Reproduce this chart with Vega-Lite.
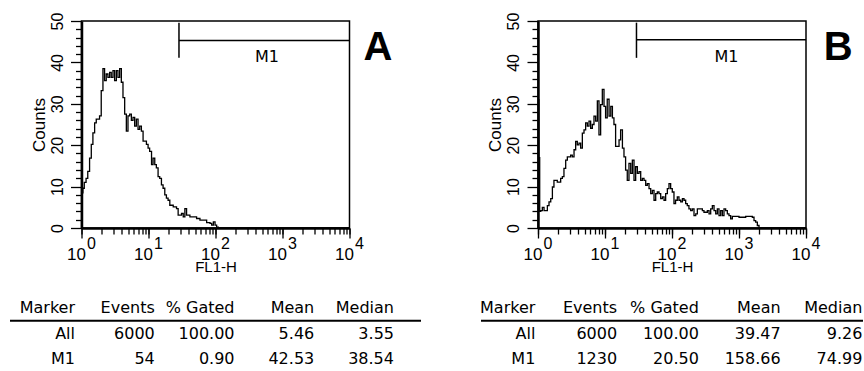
{
  "$schema": "https://vega.github.io/schema/vega-lite/v6.json",
  "padding": {"left": 9, "top": 11, "right": 0, "bottom": 0},
  "background": "white",
  "datasets": {
    "histA": [
      {"x": 1, "c": 29}, {"x": 1.03, "c": 8.5}, {"x": 1.05, "c": 9.6}, {"x": 1.1, "c": 11}, {"x": 1.17, "c": 12.0},
      {"x": 1.24, "c": 13.7}, {"x": 1.32, "c": 16.9}, {"x": 1.40, "c": 20.2}, {"x": 1.48, "c": 23.0}, {"x": 1.57, "c": 25.4},
      {"x": 1.66, "c": 26.3}, {"x": 1.86, "c": 27.1}, {"x": 1.97, "c": 33.2}, {"x": 2.09, "c": 38.5}, {"x": 2.21, "c": 35.6},
      {"x": 2.34, "c": 37.2}, {"x": 2.48, "c": 36.4}, {"x": 2.63, "c": 37.6}, {"x": 2.78, "c": 36.4}, {"x": 2.95, "c": 38.0},
      {"x": 3.12, "c": 35.6}, {"x": 3.31, "c": 38.0}, {"x": 3.50, "c": 36.4}, {"x": 3.71, "c": 38.5}, {"x": 3.93, "c": 35.2},
      {"x": 4.16, "c": 31.5}, {"x": 4.41, "c": 27.5}, {"x": 4.67, "c": 23.4}, {"x": 4.94, "c": 27.1}, {"x": 5.24, "c": 27.5},
      {"x": 5.55, "c": 26}, {"x": 5.87, "c": 26.7}, {"x": 6.22, "c": 24.6}, {"x": 6.59, "c": 26.3}, {"x": 6.98, "c": 23.8},
      {"x": 7.39, "c": 24.6}, {"x": 7.83, "c": 23.4}, {"x": 8.30, "c": 21.0}, {"x": 9.31, "c": 20.2}, {"x": 9.86, "c": 19.3},
      {"x": 10.4, "c": 18.5}, {"x": 11.1, "c": 15.3}, {"x": 11.7, "c": 16.9}, {"x": 12.4, "c": 15.3}, {"x": 13.1, "c": 14.5},
      {"x": 13.9, "c": 12.4}, {"x": 14.7, "c": 12.0}, {"x": 15.6, "c": 10.4}, {"x": 16.5, "c": 9.6}, {"x": 17.5, "c": 8.0},
      {"x": 18.5, "c": 7.2}, {"x": 19.6, "c": 6.7}, {"x": 20.8, "c": 5.5}, {"x": 23.4, "c": 5.1}, {"x": 26.2, "c": 4.7},
      {"x": 27.7, "c": 3.1}, {"x": 31.1, "c": 3.5}, {"x": 33.0, "c": 2.7}, {"x": 34.9, "c": 4.7}, {"x": 37.0, "c": 3.1},
      {"x": 41.5, "c": 2.7}, {"x": 52.2, "c": 2.3}, {"x": 58.6, "c": 1.9}, {"x": 65.8, "c": 1.9}, {"x": 73.8, "c": 1.3},
      {"x": 82.8, "c": 1.1}, {"x": 87.7, "c": 0.7}, {"x": 92.9, "c": 1.5}, {"x": 98.4, "c": 0.7}, {"x": 104, "c": 0.2},
      {"x": 110, "c": 0}, {"x": 10000, "c": 0}
    ],
    "histB": [
      {"x": 1, "c": 31}, {"x": 1.03, "c": 17}, {"x": 1.06, "c": 4}, {"x": 1.10, "c": 4.2}, {"x": 1.16, "c": 5.0},
      {"x": 1.23, "c": 4.2}, {"x": 1.38, "c": 5.4}, {"x": 1.46, "c": 6.3}, {"x": 1.55, "c": 7.1}, {"x": 1.64, "c": 9.9},
      {"x": 1.73, "c": 11.5}, {"x": 1.94, "c": 11.1}, {"x": 2.18, "c": 12.0}, {"x": 2.31, "c": 12.4}, {"x": 2.44, "c": 14.4},
      {"x": 2.59, "c": 16.4}, {"x": 2.74, "c": 17.2}, {"x": 3.07, "c": 17.6}, {"x": 3.25, "c": 17.2}, {"x": 3.45, "c": 18.9},
      {"x": 3.65, "c": 20.9}, {"x": 3.86, "c": 20.1}, {"x": 4.09, "c": 20.5}, {"x": 4.33, "c": 19.3}, {"x": 4.59, "c": 22.9},
      {"x": 4.86, "c": 23.7}, {"x": 5.14, "c": 25.4}, {"x": 5.45, "c": 24.6}, {"x": 5.77, "c": 25.8}, {"x": 6.11, "c": 24.1},
      {"x": 6.47, "c": 25.0}, {"x": 6.85, "c": 27.0}, {"x": 7.26, "c": 25.8}, {"x": 7.69, "c": 30.7}, {"x": 8.13, "c": 22.5},
      {"x": 8.61, "c": 29.8}, {"x": 9.12, "c": 33.5}, {"x": 9.66, "c": 29.4}, {"x": 10.2, "c": 26.6}, {"x": 10.8, "c": 31.1},
      {"x": 11.5, "c": 27.0}, {"x": 12.2, "c": 29.4}, {"x": 12.9, "c": 26.6}, {"x": 13.6, "c": 25.0}, {"x": 14.4, "c": 19.7},
      {"x": 15.3, "c": 19.7}, {"x": 16.2, "c": 21.3}, {"x": 17.1, "c": 23.7}, {"x": 18.2, "c": 19.3}, {"x": 19.2, "c": 17.2},
      {"x": 20.3, "c": 14.0}, {"x": 21.5, "c": 11.5}, {"x": 22.8, "c": 15.6}, {"x": 24.2, "c": 13.2}, {"x": 25.6, "c": 16.4},
      {"x": 27.1, "c": 11.5}, {"x": 28.7, "c": 14.8}, {"x": 30.4, "c": 13.2}, {"x": 32.2, "c": 13.6}, {"x": 34.1, "c": 11.5},
      {"x": 36.1, "c": 12.0}, {"x": 38.2, "c": 11.5}, {"x": 40.5, "c": 10.3}, {"x": 42.8, "c": 10.7}, {"x": 45.4, "c": 9.5},
      {"x": 48.1, "c": 8.3}, {"x": 50.9, "c": 9.1}, {"x": 53.9, "c": 6.7}, {"x": 57.1, "c": 8.3}, {"x": 60.4, "c": 8.7},
      {"x": 64.0, "c": 8.3}, {"x": 67.8, "c": 7.1}, {"x": 71.8, "c": 7.5}, {"x": 76.0, "c": 6.7}, {"x": 80.4, "c": 8.3},
      {"x": 85.2, "c": 9.5}, {"x": 90.2, "c": 10.7}, {"x": 95.5, "c": 9.5}, {"x": 101, "c": 8.7}, {"x": 107, "c": 5.9},
      {"x": 113, "c": 6.7}, {"x": 120, "c": 7.5}, {"x": 127, "c": 6.7}, {"x": 135, "c": 6.3}, {"x": 143, "c": 7.1},
      {"x": 151, "c": 6.7}, {"x": 160, "c": 5.9}, {"x": 169, "c": 5.4}, {"x": 179, "c": 4.6}, {"x": 190, "c": 4.2},
      {"x": 201, "c": 4.6}, {"x": 213, "c": 3.0}, {"x": 226, "c": 3.4}, {"x": 239, "c": 4.6}, {"x": 268, "c": 4.6},
      {"x": 284, "c": 4.2}, {"x": 300, "c": 3.8}, {"x": 337, "c": 4.2}, {"x": 357, "c": 3.4}, {"x": 378, "c": 4.6},
      {"x": 400, "c": 5.4}, {"x": 424, "c": 4.2}, {"x": 449, "c": 3.4}, {"x": 475, "c": 4.6}, {"x": 503, "c": 3.0},
      {"x": 533, "c": 4.2}, {"x": 564, "c": 3.0}, {"x": 597, "c": 4.6}, {"x": 632, "c": 4.2}, {"x": 670, "c": 3.4},
      {"x": 709, "c": 3.0}, {"x": 751, "c": 2.2}, {"x": 795, "c": 2.8}, {"x": 1000, "c": 2.6}, {"x": 1259, "c": 2.8},
      {"x": 1581, "c": 2.6}, {"x": 1675, "c": 1.8}, {"x": 1774, "c": 1.4}, {"x": 1878, "c": 0.6}, {"x": 1990, "c": 0},
      {"x": 10000, "c": 0}
    ],
    "gateA": [
      {"x1": 28.5, "x2": 10000, "y1": 45.3, "y2": 45.3},
      {"x1": 28.5, "x2": 28.5, "y1": 41.1, "y2": 49.6}
    ],
    "gateB": [
      {"x1": 29.5, "x2": 10000, "y1": 45.5, "y2": 45.5},
      {"x1": 29.5, "x2": 29.5, "y1": 41.1, "y2": 49.6}
    ],
    "m1A": [{"x": 588, "y": 40, "t": "M1"}],
    "m1B": [{"x": 648, "y": 40, "t": "M1"}],
    "letA": [{"x": 26600, "y": 40.7, "t": "A"}],
    "letB": [{"x": 30100, "y": 40.7, "t": "B"}],
    "tabA": [
      {"row": "header", "col": "Marker", "t": "Marker"}, {"row": "header", "col": "Events", "t": "Events"},
      {"row": "header", "col": "% Gated", "t": "% Gated"}, {"row": "header", "col": "Mean", "t": "Mean"},
      {"row": "header", "col": "Median", "t": "Median"},
      {"row": "All", "col": "Marker", "t": "All"}, {"row": "All", "col": "Events", "t": "6000"},
      {"row": "All", "col": "% Gated", "t": "100.00"}, {"row": "All", "col": "Mean", "t": "5.46"},
      {"row": "All", "col": "Median", "t": "3.55"},
      {"row": "M1", "col": "Marker", "t": "M1"}, {"row": "M1", "col": "Events", "t": "54"},
      {"row": "M1", "col": "% Gated", "t": "0.90"}, {"row": "M1", "col": "Mean", "t": "42.53"},
      {"row": "M1", "col": "Median", "t": "38.54"}
    ],
    "tabB": [
      {"row": "header", "col": "Marker", "t": "Marker"}, {"row": "header", "col": "Events", "t": "Events"},
      {"row": "header", "col": "% Gated", "t": "% Gated"}, {"row": "header", "col": "Mean", "t": "Mean"},
      {"row": "header", "col": "Median", "t": "Median"},
      {"row": "All", "col": "Marker", "t": "All"}, {"row": "All", "col": "Events", "t": "6000"},
      {"row": "All", "col": "% Gated", "t": "100.00"}, {"row": "All", "col": "Mean", "t": "39.47"},
      {"row": "All", "col": "Median", "t": "9.26"},
      {"row": "M1", "col": "Marker", "t": "M1"}, {"row": "M1", "col": "Events", "t": "1230"},
      {"row": "M1", "col": "% Gated", "t": "20.50"}, {"row": "M1", "col": "Mean", "t": "158.66"},
      {"row": "M1", "col": "Median", "t": "74.99"}
    ],
    "hdr": [{"row": "header"}]
  },
  "hconcat": [
    {
      "vconcat": [
        {
          "width": 268, "height": 207,
          "view": {"stroke": "black", "strokeWidth": 1.5},
          "layer": [
            {
              "data": {"name": "histA"},
              "mark": {"type": "line", "interpolate": "step-after", "color": "black", "strokeWidth": 1.3},
              "encoding": {
                "x": {"field": "x", "type": "quantitative", "scale": {"type": "log", "domain": [1, 10000], "nice": false},
                  "axis": {"orient": "bottom", "values": [1, 10, 100, 1000, 10000], "labelExpr": "'10'", "labelAlign": "right", "labelOffset": 4, "labelBaseline": "alphabetic", "labelPadding": 21, "labelFontSize": 17, "labelFlush": false, "labelOverlap": false, "tickSize": 10, "tickWidth": 1.3, "domainWidth": 2.5, "title": "FL1-H", "titleFontSize": 15, "titlePadding": -3}},
                "y": {"field": "c", "type": "quantitative", "scale": {"domain": [0, 50], "nice": false, "zero": false},
                  "axis": {"orient": "left", "values": [0, 10, 20, 30, 40, 50], "labelAngle": 270, "labelAlign": "center", "labelBaseline": "alphabetic", "labelPadding": 8.5, "labelFontSize": 16, "labelFlush": false, "labelOverlap": false, "tickSize": 11, "tickWidth": 1.3, "domainWidth": 2.5, "title": "Counts", "titleFontSize": 17, "titlePadding": 1}}
              }
            },
            {
              "data": {"name": "gateA"},
              "mark": {"type": "rule", "color": "black", "strokeWidth": 1.5},
              "encoding": {
                "x": {"field": "x1", "type": "quantitative", "scale": {"type": "log", "domain": [1, 10000], "nice": false},
                  "axis": {"orient": "bottom", "values": [1, 2, 3, 4, 5, 6, 7, 8, 9, 10, 20, 30, 40, 50, 60, 70, 80, 90, 100, 200, 300, 400, 500, 600, 700, 800, 900, 1000, 2000, 3000, 4000, 5000, 6000, 7000, 8000, 9000, 10000],
                    "labelExpr": "datum.value == 1 ? '0' : datum.value == 10 ? '1' : datum.value == 100 ? '2' : datum.value == 1000 ? '3' : datum.value == 10000 ? '4' : ''",
                    "labelAlign": "left", "labelOffset": 5, "labelBaseline": "alphabetic", "labelPadding": 14, "labelFontSize": 16, "labelFlush": false, "labelOverlap": false, "tickSize": 6, "tickWidth": 1.3, "domain": false, "title": null}},
                "x2": {"field": "x2"},
                "y": {"field": "y1", "type": "quantitative", "scale": {"domain": [0, 50], "nice": false, "zero": false},
                  "axis": {"orient": "left", "values": [2, 4, 6, 8, 12, 14, 16, 18, 22, 24, 26, 28, 32, 34, 36, 38, 42, 44, 46, 48], "labels": false, "tickSize": 6, "tickWidth": 1.3, "domain": false, "title": null}},
                "y2": {"field": "y2"}
              }
            },
            {
              "data": {"name": "m1A"},
              "mark": {"type": "text", "font": "DejaVu Sans", "fontSize": 16, "align": "center", "baseline": "alphabetic", "color": "black"},
              "encoding": {
                "x": {"field": "x", "type": "quantitative", "scale": {"type": "log", "domain": [1, 10000], "nice": false}, "axis": null},
                "y": {"field": "y", "type": "quantitative", "scale": {"domain": [0, 50], "nice": false, "zero": false}, "axis": null},
                "text": {"field": "t"}
              }
            },
            {
              "data": {"name": "letA"},
              "mark": {"type": "text", "font": "Liberation Sans", "fontSize": 40, "fontWeight": "bold", "align": "center", "baseline": "alphabetic", "color": "black"},
              "encoding": {
                "x": {"field": "x", "type": "quantitative", "scale": {"type": "log", "domain": [1, 10000], "nice": false}, "axis": null},
                "y": {"field": "y", "type": "quantitative", "scale": {"domain": [0, 50], "nice": false, "zero": false}, "axis": null},
                "text": {"field": "t"}
              }
            }
          ],
          "resolve": {"axis": {"x": "independent", "y": "independent"}}
        },
        {
          "width": 411, "height": 77,
          "view": {"stroke": null},
          "layer": [
            {
              "data": {"name": "tabA"},
              "mark": {"type": "text", "font": "DejaVu Sans", "fontSize": 16, "align": "right", "baseline": "middle", "color": "black"},
              "encoding": {
                "x": {"field": "col", "type": "nominal", "scale": {"type": "point", "domain": ["Marker", "Events", "% Gated", "Mean", "Median"], "padding": 0.577, "align": 0.7065}, "axis": null},
                "y": {"field": "row", "type": "nominal", "scale": {"type": "band", "domain": ["header", "All", "M1"], "paddingInner": 0, "paddingOuter": 0}, "axis": null},
                "text": {"field": "t"}
              }
            },
            {
              "data": {"name": "hdr"},
              "mark": {"type": "rule", "color": "black", "strokeWidth": 2},
              "encoding": {
                "y": {"field": "row", "type": "nominal", "bandPosition": 1, "scale": {"type": "band", "domain": ["header", "All", "M1"], "paddingInner": 0, "paddingOuter": 0}, "axis": null}
              }
            }
          ]
        }
      ],
      "center": true,
      "bounds": "flush",
      "spacing": 67
    },
    {
      "vconcat": [
        {
          "width": 268, "height": 207,
          "view": {"stroke": "black", "strokeWidth": 1.5},
          "layer": [
            {
              "data": {"name": "histB"},
              "mark": {"type": "line", "interpolate": "step-after", "color": "black", "strokeWidth": 1.3},
              "encoding": {
                "x": {"field": "x", "type": "quantitative", "scale": {"type": "log", "domain": [1, 10000], "nice": false},
                  "axis": {"orient": "bottom", "values": [1, 10, 100, 1000, 10000], "labelExpr": "'10'", "labelAlign": "right", "labelOffset": 4, "labelBaseline": "alphabetic", "labelPadding": 21, "labelFontSize": 17, "labelFlush": false, "labelOverlap": false, "tickSize": 10, "tickWidth": 1.3, "domainWidth": 2.5, "title": "FL1-H", "titleFontSize": 15, "titlePadding": -3}},
                "y": {"field": "c", "type": "quantitative", "scale": {"domain": [0, 50], "nice": false, "zero": false},
                  "axis": {"orient": "left", "values": [0, 10, 20, 30, 40, 50], "labelAngle": 270, "labelAlign": "center", "labelBaseline": "alphabetic", "labelPadding": 8.5, "labelFontSize": 16, "labelFlush": false, "labelOverlap": false, "tickSize": 11, "tickWidth": 1.3, "domainWidth": 2.5, "title": "Counts", "titleFontSize": 17, "titlePadding": 1}}
              }
            },
            {
              "data": {"name": "gateB"},
              "mark": {"type": "rule", "color": "black", "strokeWidth": 1.5},
              "encoding": {
                "x": {"field": "x1", "type": "quantitative", "scale": {"type": "log", "domain": [1, 10000], "nice": false},
                  "axis": {"orient": "bottom", "values": [1, 2, 3, 4, 5, 6, 7, 8, 9, 10, 20, 30, 40, 50, 60, 70, 80, 90, 100, 200, 300, 400, 500, 600, 700, 800, 900, 1000, 2000, 3000, 4000, 5000, 6000, 7000, 8000, 9000, 10000],
                    "labelExpr": "datum.value == 1 ? '0' : datum.value == 10 ? '1' : datum.value == 100 ? '2' : datum.value == 1000 ? '3' : datum.value == 10000 ? '4' : ''",
                    "labelAlign": "left", "labelOffset": 5, "labelBaseline": "alphabetic", "labelPadding": 14, "labelFontSize": 16, "labelFlush": false, "labelOverlap": false, "tickSize": 6, "tickWidth": 1.3, "domain": false, "title": null}},
                "x2": {"field": "x2"},
                "y": {"field": "y1", "type": "quantitative", "scale": {"domain": [0, 50], "nice": false, "zero": false},
                  "axis": {"orient": "left", "values": [2, 4, 6, 8, 12, 14, 16, 18, 22, 24, 26, 28, 32, 34, 36, 38, 42, 44, 46, 48], "labels": false, "tickSize": 6, "tickWidth": 1.3, "domain": false, "title": null}},
                "y2": {"field": "y2"}
              }
            },
            {
              "data": {"name": "m1B"},
              "mark": {"type": "text", "font": "DejaVu Sans", "fontSize": 16, "align": "center", "baseline": "alphabetic", "color": "black"},
              "encoding": {
                "x": {"field": "x", "type": "quantitative", "scale": {"type": "log", "domain": [1, 10000], "nice": false}, "axis": null},
                "y": {"field": "y", "type": "quantitative", "scale": {"domain": [0, 50], "nice": false, "zero": false}, "axis": null},
                "text": {"field": "t"}
              }
            },
            {
              "data": {"name": "letB"},
              "mark": {"type": "text", "font": "Liberation Sans", "fontSize": 40, "fontWeight": "bold", "align": "center", "baseline": "alphabetic", "color": "black"},
              "encoding": {
                "x": {"field": "x", "type": "quantitative", "scale": {"type": "log", "domain": [1, 10000], "nice": false}, "axis": null},
                "y": {"field": "y", "type": "quantitative", "scale": {"domain": [0, 50], "nice": false, "zero": false}, "axis": null},
                "text": {"field": "t"}
              }
            }
          ],
          "resolve": {"axis": {"x": "independent", "y": "independent"}}
        },
        {
          "width": 382, "height": 77,
          "view": {"stroke": null},
          "layer": [
            {
              "data": {"name": "tabB"},
              "mark": {"type": "text", "font": "DejaVu Sans", "fontSize": 16, "align": "right", "baseline": "middle", "color": "black"},
              "encoding": {
                "x": {"field": "col", "type": "nominal", "scale": {"type": "point", "domain": ["Marker", "Events", "% Gated", "Mean", "Median"], "padding": 0.336, "align": 0.989}, "axis": null},
                "y": {"field": "row", "type": "nominal", "scale": {"type": "band", "domain": ["header", "All", "M1"], "paddingInner": 0, "paddingOuter": 0}, "axis": null},
                "text": {"field": "t"}
              }
            },
            {
              "data": {"name": "hdr"},
              "mark": {"type": "rule", "color": "black", "strokeWidth": 2},
              "encoding": {
                "y": {"field": "row", "type": "nominal", "bandPosition": 1, "scale": {"type": "band", "domain": ["header", "All", "M1"], "paddingInner": 0, "paddingOuter": 0}, "axis": null}
              }
            }
          ]
        }
      ],
      "center": true,
      "bounds": "flush",
      "spacing": 67
    }
  ],
  "bounds": "full",
  "spacing": 58,
  "config": {
    "view": {"stroke": null},
    "axis": {"grid": false, "domainColor": "black", "tickColor": "black", "labelColor": "black", "titleColor": "black", "labelFont": "Liberation Sans", "titleFont": "Liberation Sans", "titleFontWeight": "normal"}
  }
}
